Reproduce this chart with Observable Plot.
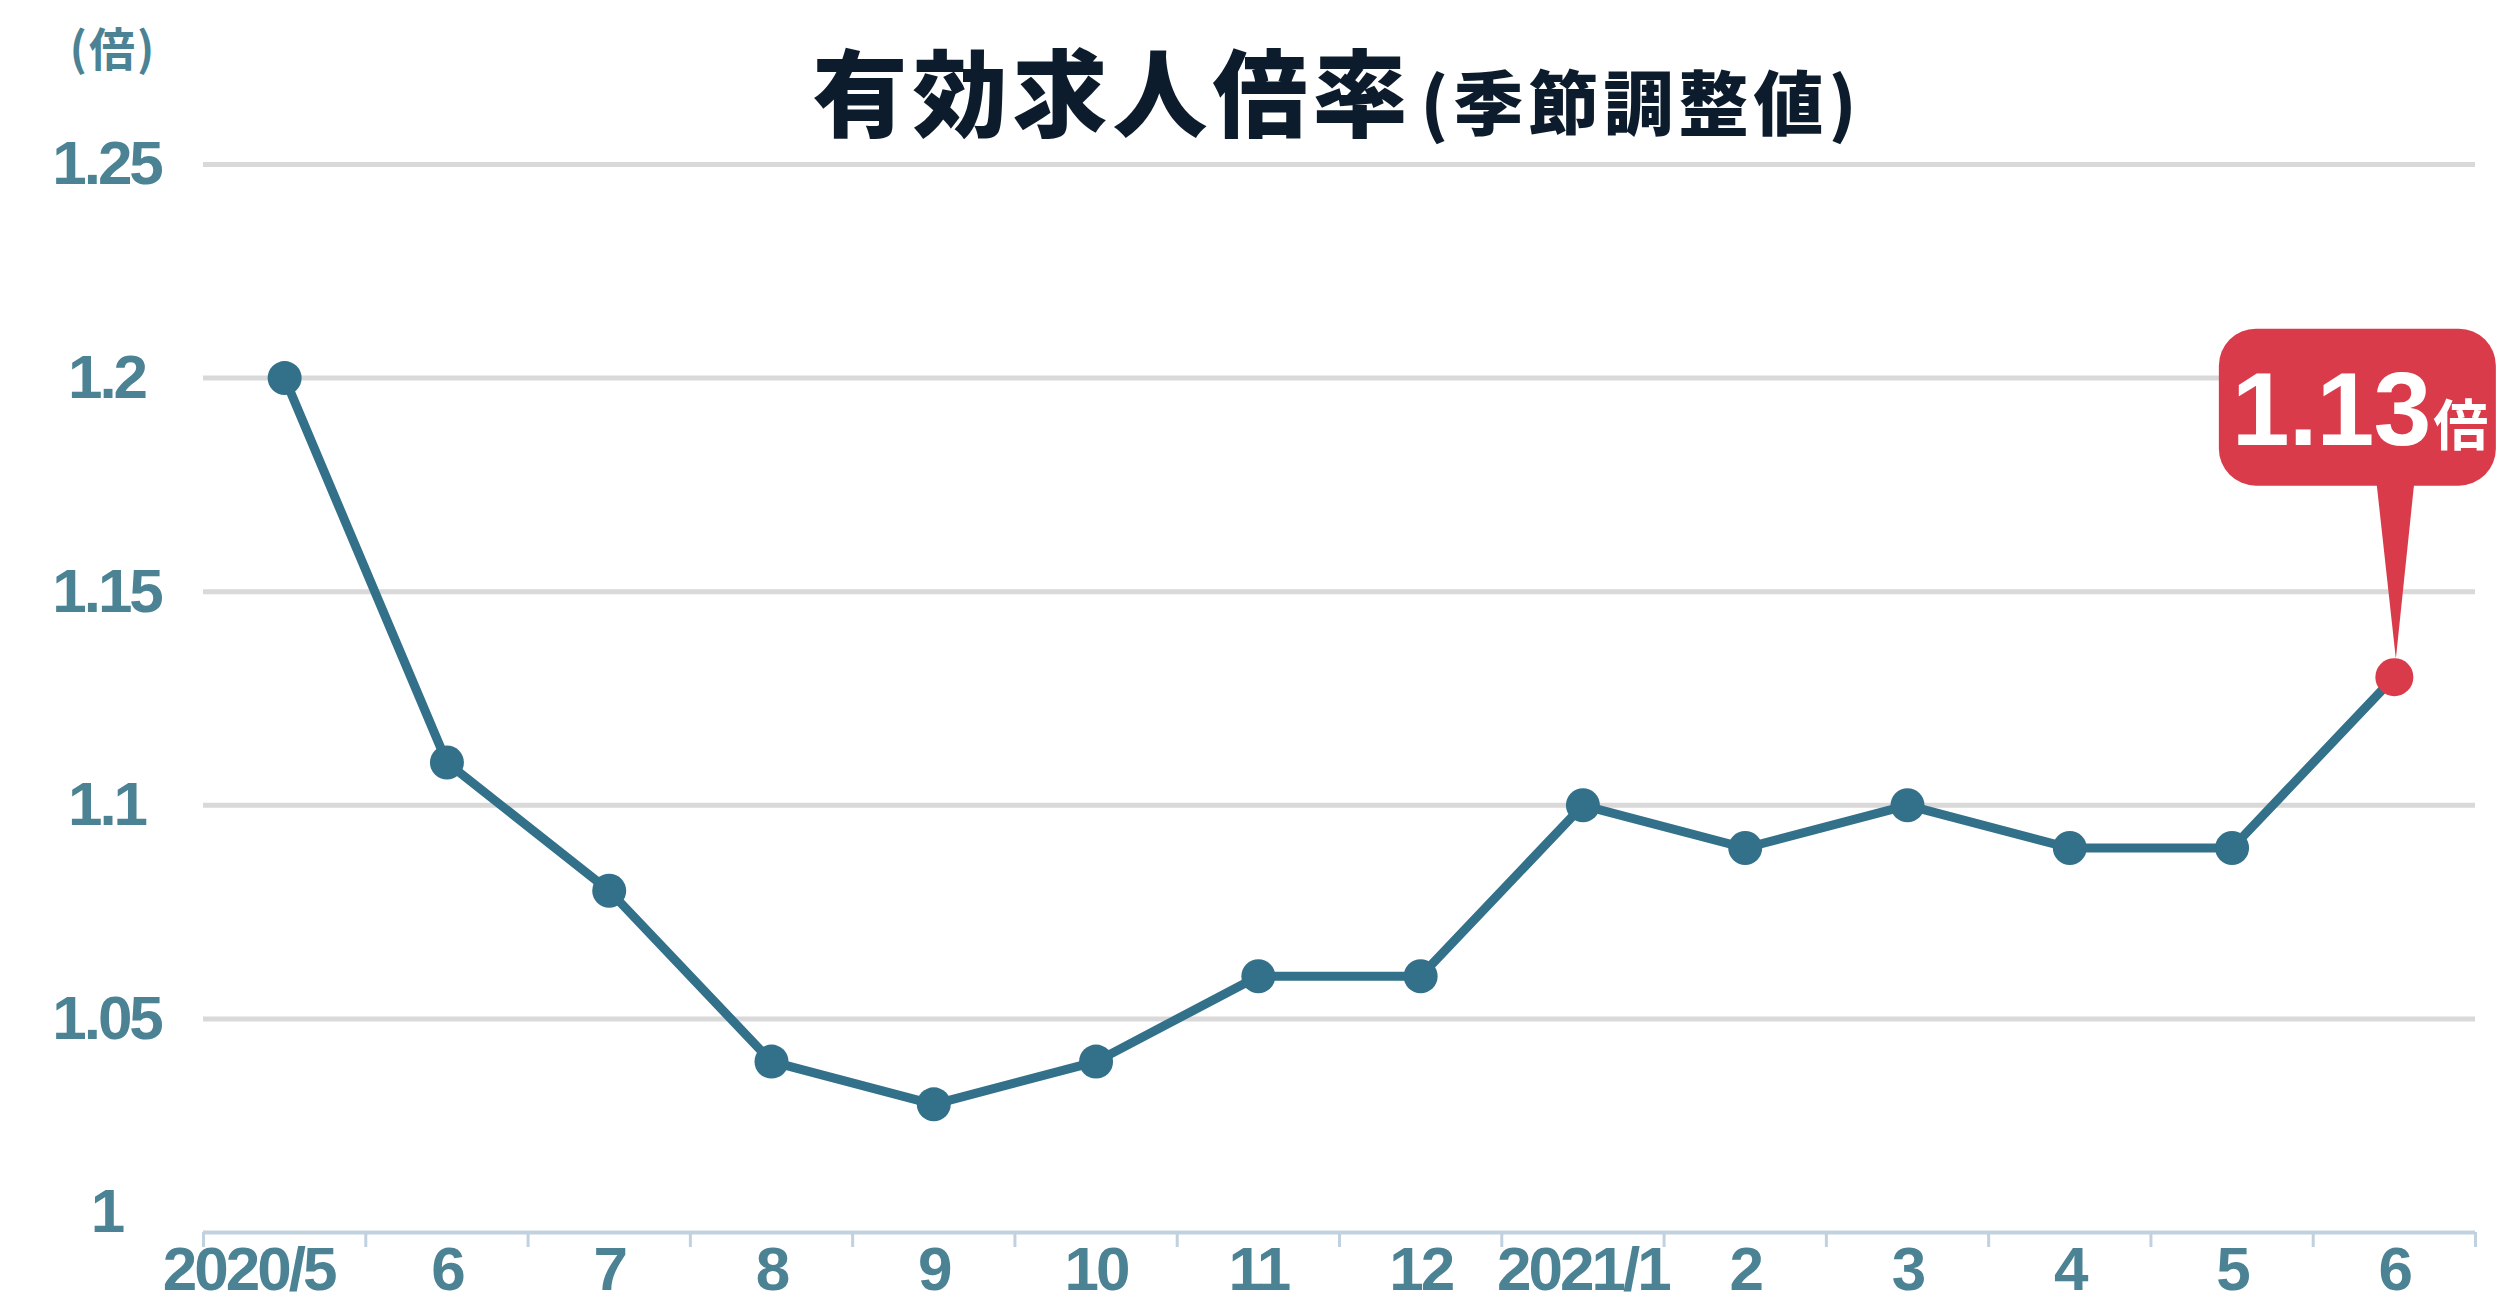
<!DOCTYPE html>
<html lang="ja">
<head>
<meta charset="utf-8">
<script src="https://cdn.jsdelivr.net/npm/d3@7"></script>
<script src="https://cdn.jsdelivr.net/npm/@observablehq/plot@0.6"></script>
<style>
  html, body { margin: 0; padding: 0; background: #fff; }
  #chart { width: 2501px; height: 1314px; }
</style>
</head>
<body>
<div id="chart"></div>
<script>
// ---- data ----
const months = ["2020/5", "6", "7", "8", "9", "10", "11", "12", "2021/1", "2", "3", "4", "5", "6"];
const ratios = [1.20, 1.11, 1.08, 1.04, 1.03, 1.04, 1.06, 1.06, 1.10, 1.09, 1.10, 1.09, 1.09, 1.13];
const yTicks = [1, 1.05, 1.1, 1.15, 1.2, 1.25];
const yTickLabels = ["1", "1.05", "1.1", "1.15", "1.2", "1.25"];
const unitLabel = "(倍)";
const titleMain = "有効求人倍率";
const titleSub = "(季節調整値)";
const calloutUnit = "倍";

// ---- styles ----
const NUM_FONT = "'Liberation Sans', Arial, Helvetica, sans-serif";
const CJK_FONT = "'Noto Sans CJK JP', 'Noto Sans CJK SC', sans-serif";
const LABEL = "#4b8294";
const LINE = "#33718a";
const RED = "#d93b4b";
const GRID = "#d9d9d9";
const AXIS = "#c2d1e0";

const data = months.map((m, i) => ({ i, m, v: ratios[i] }));
const last = data[data.length - 1];
const bounds = months.map((_, i) => i - 0.5).concat([months.length - 0.5]);
const idx = months.map((_, i) => i);

const plot = Plot.plot({
  width: 2501,
  height: 1314,
  marginLeft: 203,
  marginRight: 26,
  marginTop: 164,
  marginBottom: 82,
  style: { fontFamily: NUM_FONT, background: "#fff", overflow: "visible" },
  x: { type: "linear", domain: [-0.5, months.length - 0.5], label: null },
  y: { type: "linear", domain: [1, 1.25], label: null },
  marks: [
    Plot.ruleY(yTicks.filter(d => d > 1), { stroke: GRID, strokeWidth: 5 }),
    Plot.ruleY([1], { stroke: AXIS, strokeWidth: 4 }),
    Plot.axisX({ ticks: bounds, tickSize: 15, tickFormat: () => "", label: null,
      stroke: AXIS, strokeWidth: 3, strokeOpacity: 1 }),
    Plot.axisX({ ticks: idx.slice(0, 1), tickSize: 0, tickPadding: 13, dx: -36, label: null,
      tickFormat: d => months[d], fontSize: 62, fontWeight: "bold", fill: LABEL }),
    Plot.axisX({ ticks: idx.slice(1), tickSize: 0, tickPadding: 13, label: null,
      tickFormat: d => months[d], fontSize: 62, fontWeight: "bold", fill: LABEL }),
    Plot.axisY({ ticks: yTicks.slice(1), tickSize: 0, tickPadding: 97, textAnchor: "middle", label: null,
      tickFormat: d => yTickLabels[yTicks.indexOf(d)], fontSize: 62, fontWeight: "bold", fill: LABEL }),
    Plot.axisY({ ticks: yTicks.slice(0, 1), tickSize: 0, tickPadding: 97, textAnchor: "middle", dy: -20, label: null,
      tickFormat: d => yTickLabels[yTicks.indexOf(d)], fontSize: 62, fontWeight: "bold", fill: LABEL }),
    Plot.line(data, { x: "i", y: "v", stroke: LINE, strokeWidth: 9, strokeLinejoin: "round" }),
    Plot.dot(data.slice(0, -1), { x: "i", y: "v", r: 17, fill: LINE }),
    Plot.dot([last], { x: "i", y: "v", r: 19, fill: RED })
  ]
});

const svg = d3.select(plot);
svg.selectAll("text").style("letter-spacing", "-3px");

// Title
const t = svg.append("text")
  .attr("x", 1337).attr("y", 130)
  .attr("text-anchor", "middle")
  .attr("fill", "#0c1c2c")
  .style("font-family", CJK_FONT)
  .style("font-weight", 900);
t.append("tspan").text(titleMain).style("font-size", "95px").style("letter-spacing", "5px");
t.append("tspan").text(titleSub).attr("dx", 8).style("font-size", "70px").style("letter-spacing", "5px");

// Unit label
svg.append("text")
  .attr("x", 113).attr("y", 66)
  .attr("text-anchor", "middle")
  .attr("fill", LABEL)
  .style("font-family", CJK_FONT)
  .style("font-weight", 700)
  .style("font-size", "46px")
  .style("letter-spacing", "2px")
  .text(unitLabel);

// Callout
const sx = plot.scale("x"), sy = plot.scale("y");
const px = sx.apply(last.i), py = sy.apply(last.v);
const g = svg.append("g");
g.append("path")
  .attr("d", `M${px - 18},${py - 200} L${px + 21},${py - 200} L${px + 2},${py - 18} Z`)
  .attr("fill", RED);
g.append("rect")
  .attr("x", px - 175).attr("y", py - 348)
  .attr("width", 277).attr("height", 157)
  .attr("rx", 37).attr("ry", 37)
  .attr("fill", RED);
const ct = g.append("text")
  .attr("x", px - 162).attr("y", py - 232)
  .attr("text-anchor", "start")
  .attr("fill", "#fff")
  .style("font-family", NUM_FONT)
  .style("font-weight", "bold");
ct.append("tspan").text(last.v.toFixed(2)).style("font-size", "104px").style("letter-spacing", "-1px");
ct.append("tspan").text(calloutUnit).attr("dx", 3)
  .style("font-family", CJK_FONT).style("font-size", "55px").style("font-weight", 700);

document.getElementById("chart").appendChild(plot);
</script>
</body>
</html>
